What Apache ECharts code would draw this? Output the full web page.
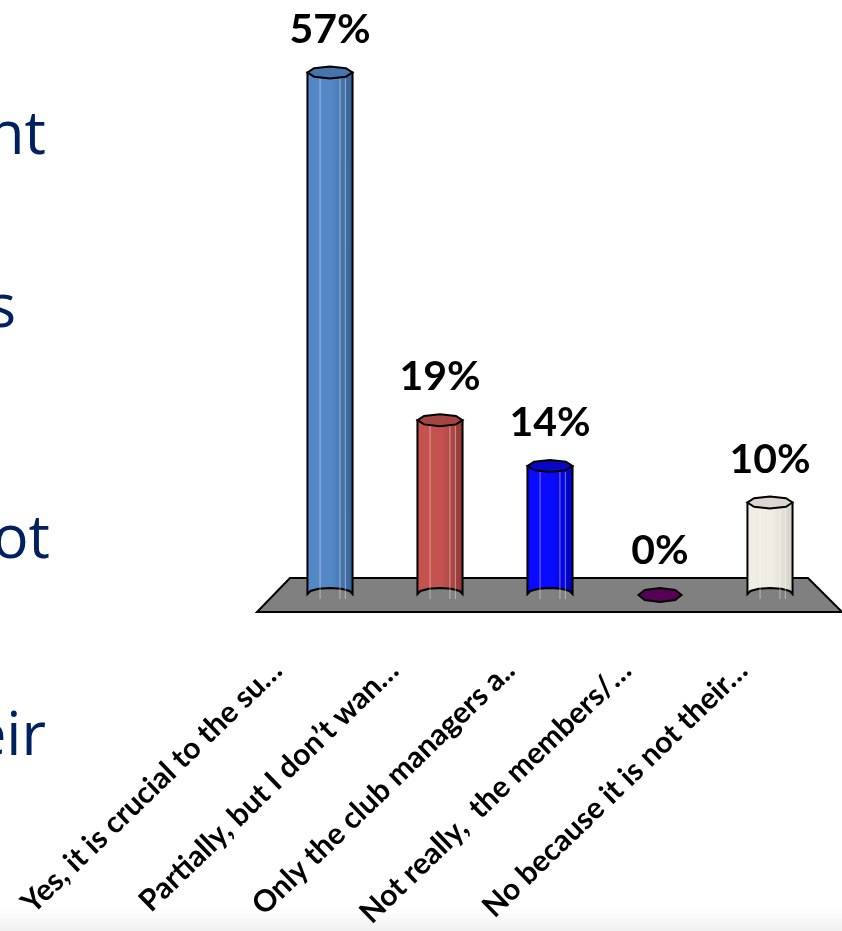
<!DOCTYPE html>
<html>
<head>
<meta charset="utf-8">
<script src="https://cdn.jsdelivr.net/npm/echarts@6/dist/echarts.min.js"></script>
<style>
  html, body { margin: 0; padding: 0; background: #ffffff; }
  #chart { width: 842px; height: 931px; }
</style>
</head>
<body>
<div id="chart"></div>
<script>
// Survey answers and the share of respondents for each
const categories = [
  'Yes, it is crucial to the su…',
  'Partially, but I don’t wan…',
  'Only the club managers a..',
  'Not really,  the members/…',
  'No because it is not their…'
];
const shares = [57, 19, 14, 0, 10];
const shareLabels = ['57%', '19%', '14%', '0%', '10%'];

// Slide body text that runs into the chart from the left
const sideText = ['nt', 's', 'ot', 'eir'];

// Cylinder colours: light side, dark side, top cap
const palette = [
  { light: '#5387c5', dark: '#355f93', top: '#4675ad' },
  { light: '#c4524f', dark: '#8e3836', top: '#a54542' },
  { light: '#0a0aff', dark: '#0000c0', top: '#0808c4' },
  { light: '#6a0a6a', dark: '#560056', top: '#600060' },
  { light: '#efede4', dark: '#d3d1c7', top: '#d9d7cf' }
];

const chart = echarts.init(document.getElementById('chart'), null, { renderer: 'canvas' });

function arcPoints(cx, cy, rx, ry, from, to, steps) {
  const pts = [];
  for (let k = 0; k <= steps; k++) {
    const a = from + (to - from) * k / steps;
    pts.push([cx + rx * Math.cos(a), cy + ry * Math.sin(a)]);
  }
  return pts;
}

function renderCylinder(params, api) {
  const i = api.value(0);
  const v = api.value(1);
  const base = api.coord([i, 0]);
  const top = api.coord([i, v]);
  const rx = api.size([1, 0])[0] * 0.205;
  const ry = 6;
  const cx = base[0];
  const c = palette[i];
  const children = [];

  if (v === 0) {
    children.push({
      type: 'polygon',
      shape: { points: arcPoints(cx, base[1] + 1, rx - 1, 7, 0, Math.PI * 2, 8) },
      style: { fill: c.dark, stroke: '#000', lineWidth: 2 }
    });
  } else {
    const yb = base[1];
    const yt = top[1];
    // side of the cylinder, closed by the lower half of the base ellipse
    const lower = arcPoints(cx, yb, rx, ry, Math.PI, 0, 6).map(p => [p[0], 2 * yb - p[1]]);
    const bodyPts = [[cx - rx, yt]].concat(lower).concat([[cx + rx, yt]]);
    children.push({
      type: 'polygon',
      shape: { points: bodyPts },
      style: {
        fill: new echarts.graphic.LinearGradient(0, 0, 1, 0, [
          { offset: 0, color: c.light },
          { offset: 0.55, color: c.light },
          { offset: 1, color: c.dark }
        ]),
        stroke: '#000',
        lineWidth: 2
      }
    });
    [0.28, 0.72, 0.84].forEach(f => {
      const x = cx - rx + 2 * rx * f;
      children.push({
        type: 'line',
        shape: { x1: x, y1: yt + ry, x2: x, y2: yb + ry - 1 },
        style: { stroke: 'rgba(255,255,255,0.45)', lineWidth: 1 }
      });
    });
    children.push({
      type: 'polygon',
      shape: { points: arcPoints(cx, yt, rx, ry, 0, Math.PI * 2, 8) },
      style: { fill: c.top, stroke: '#000', lineWidth: 2 }
    });
  }

  children.push({
    type: 'text',
    style: {
      x: cx,
      y: top[1] - 43,
      text: shareLabels[i],
      font: 'bold 41px Lato',
      fill: '#000',
      align: 'center',
      verticalAlign: 'middle'
    }
  });

  return { type: 'group', children };
}

const sideY = [137, 310, 541, 738];
const sideRight = [46, 16, 50, 46];

const option = {
  backgroundColor: '#ffffff',
  animation: false,
  grid: [
    { left: 275, right: 17, top: 45, bottom: 337 },
    { left: 219, right: 41, top: 600, height: 50 }
  ],
  xAxis: [
    { type: 'category', gridIndex: 0, data: categories, show: false },
    {
      type: 'category', gridIndex: 1, data: categories,
      axisLine: { show: false }, axisTick: { show: false },
      axisLabel: {
        rotate: 44, margin: 18, interval: 0,
        fontFamily: 'Lato', fontWeight: 'bold', fontSize: 30, color: '#000'
      }
    }
  ],
  yAxis: [
    { type: 'value', gridIndex: 0, min: 0, max: 60, show: false },
    { type: 'value', gridIndex: 1, show: false }
  ],
  graphic: [
    {
      type: 'rect', z: 0, silent: true,
      shape: { x: 0, y: 908, width: 842, height: 23 },
      style: {
        fill: new echarts.graphic.LinearGradient(0, 0, 0, 1, [
          { offset: 0, color: '#ffffff' },
          { offset: 1, color: '#f0f0f0' }
        ])
      }
    },
    {
      type: 'polygon', z: 0, silent: true,
      shape: { points: [[290, 578], [808, 578], [842, 612], [257, 612]] },
      style: { fill: '#808080', stroke: '#000', lineWidth: 2 }
    }
  ].concat(sideText.map((t, k) => ({
    type: 'text', z: 0, silent: true,
    style: {
      x: sideRight[k], y: sideY[k], text: t,
      font: '60px "Open Sans"', fill: '#002060',
      align: 'right', verticalAlign: 'middle'
    }
  }))),
  series: [{
    type: 'custom',
    xAxisIndex: 0,
    yAxisIndex: 0,
    renderItem: renderCylinder,
    data: shares.map((s, i) => [i, s]),
    z: 5
  }]
};

chart.setOption(option);
</script>
</body>
</html>
